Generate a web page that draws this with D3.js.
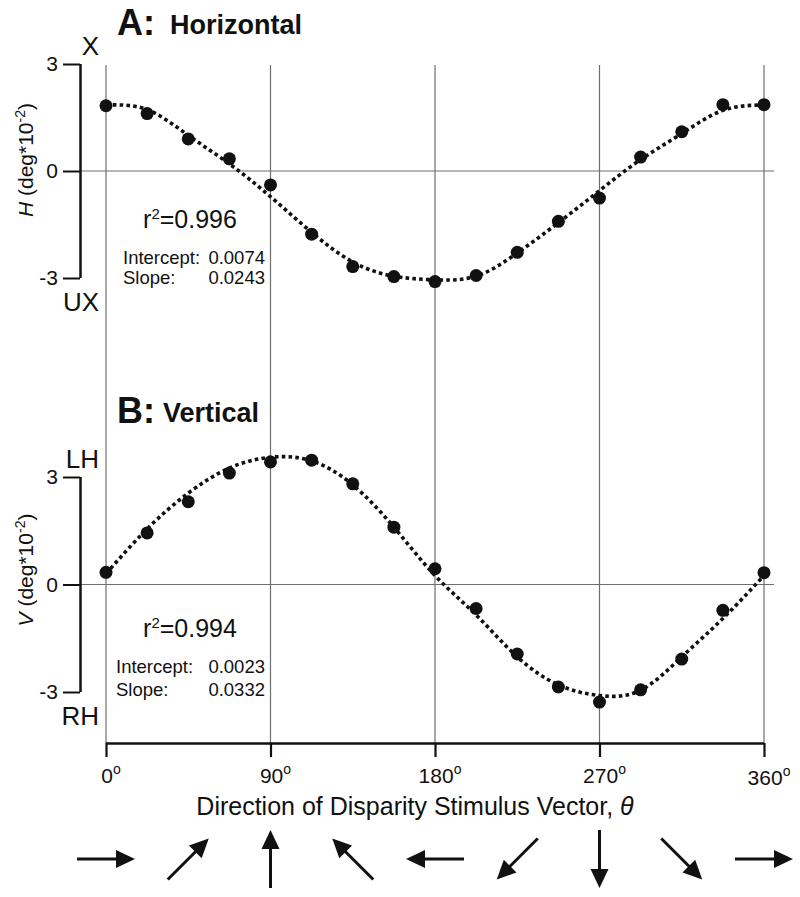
<!DOCTYPE html>
<html>
<head>
<meta charset="utf-8">
<script src="https://cdn.jsdelivr.net/npm/d3@7"></script>
<style>
  html, body { margin: 0; padding: 0; background: #fff; }
  svg { display: block; font-family: "Liberation Sans", Arial, Helvetica, sans-serif; }
</style>
</head>
<body>
<svg id="chart" width="800" height="897"></svg>
<script>
// ---------------- DATA ----------------
const angles = [0, 22.5, 45, 67.5, 90, 112.5, 135, 157.5, 180, 202.5, 225, 247.5, 270, 292.5, 315, 337.5, 360];
const horizontalValues = [1.83, 1.61, 0.90, 0.34, -0.39, -1.77, -2.68, -2.96, -3.10, -2.93, -2.28, -1.41, -0.76, 0.39, 1.10, 1.86, 1.86];
const horizontalFit   = [1.85, 1.72, 1.00, 0.20, -0.72, -1.72, -2.55, -2.95, -3.05, -2.95, -2.30, -1.45, -0.55, 0.32, 1.05, 1.70, 1.85];
const verticalValues  = [0.34, 1.44, 2.31, 3.11, 3.42, 3.47, 2.81, 1.60, 0.44, -0.67, -1.94, -2.86, -3.28, -2.94, -2.08, -0.72, 0.33];
const verticalFit     = [0.30, 1.55, 2.55, 3.25, 3.55, 3.45, 2.78, 1.60, 0.25, -0.85, -2.02, -2.80, -3.10, -2.95, -2.02, -0.95, 0.25];
const xTicks = [0, 90, 180, 270, 360];
const yTicks = [-3, 0, 3];
const arrowDirections = [0, 45, 90, 135, 180, 225, 270, 315, 360];
const panelA = { letter: "A:", name: "Horizontal", varName: "H", top: "X", bottom: "UX", r2: "0.996", intercept: "0.0074", slope: "0.0243" };
const panelB = { letter: "B:", name: "Vertical", varName: "V", top: "LH", bottom: "RH", r2: "0.994", intercept: "0.0023", slope: "0.0332" };
const xTitle = "Direction of Disparity Stimulus Vector, ";

// ---------------- LAYOUT ----------------
const svg = d3.select("#chart");
const x = d3.scaleLinear().domain([0, 360]).range([106, 764]);
const axisX = 80;
const gridTop = 65, xAxisY = 743;
const gridColor = "#6e6e6e";

// vertical grid lines through both panels
svg.append("g").selectAll("line").data(xTicks).join("line")
  .attr("x1", d => x(d)).attr("x2", d => x(d))
  .attr("y1", gridTop).attr("y2", xAxisY)
  .attr("stroke", gridColor).attr("stroke-width", 1.2);

function drawPanel(cfg, values, fit, yRange, titleY, titleCenter, statsY, statsX) {
  const y = d3.scaleLinear().domain([-3, 3]).range(yRange);
  const g = svg.append("g");

  // zero line
  g.append("line").attr("x1", axisX).attr("x2", 774)
    .attr("y1", y(0)).attr("y2", y(0))
    .attr("stroke", gridColor).attr("stroke-width", 1.2);

  // y axis via d3
  const yAxis = d3.axisLeft(y).tickValues(yTicks).tickSize(17).tickSizeOuter(0).tickPadding(5)
    .tickFormat(d => String(d));
  const ag = g.append("g").attr("transform", `translate(${axisX},0)`).call(yAxis);
  ag.select(".domain").attr("stroke", "#111").attr("stroke-width", 2.5)
    .attr("d", `M0.5,${y(3)}V${y(-3)}`);
  ag.selectAll(".tick line").attr("stroke", "#111").attr("stroke-width", 2);
  ag.selectAll(".tick text").attr("font-size", 21).attr("fill", "#111")
    .attr("font-family", "'Liberation Sans', Arial, sans-serif");

  // top / bottom labels
  g.append("text").attr("x", 99).attr("y", y(3) - 9).attr("text-anchor", "end")
    .attr("font-size", 26).attr("fill", "#111").text(cfg.top);
  g.append("text").attr("x", 99).attr("y", y(-3) + 33).attr("text-anchor", "end")
    .attr("font-size", 26).attr("fill", "#111").text(cfg.bottom);

  // y title (rotated)
  const yt = g.append("text").attr("transform", `translate(33,${titleCenter}) rotate(-90)`)
    .attr("text-anchor", "middle").attr("font-size", 21).attr("fill", "#111");
  yt.append("tspan").attr("font-style", "italic").text(cfg.varName);
  yt.append("tspan").text(" (deg*10");
  yt.append("tspan").attr("dy", -8).attr("font-size", 14).text("-2");
  yt.append("tspan").attr("dy", 8).text(")");

  // title
  g.append("text").attr("x", 117).attr("y", titleY).attr("font-size", 36).attr("font-weight", "bold")
    .attr("fill", "#111").text(cfg.letter);
  g.append("text").attr("x", cfg.letter === "A:" ? 170 : 163).attr("y", titleY - 1).attr("font-size", 27)
    .attr("font-weight", "bold").attr("fill", "#111").text(cfg.name);

  // fit line
  const line = d3.line().x((d, i) => x(angles[i])).y(d => y(d)).curve(d3.curveNatural);
  g.append("path").attr("d", line(fit)).attr("fill", "none")
    .attr("stroke", "#111").attr("stroke-width", 3.6).attr("stroke-dasharray", "3.6,3.2");

  // points
  g.append("g").selectAll("circle").data(values).join("circle")
    .attr("cx", (d, i) => x(angles[i])).attr("cy", d => y(d)).attr("r", 6.5).attr("fill", "#111");

  // statistics
  const r2 = g.append("text").attr("x", 190).attr("y", statsY).attr("text-anchor", "middle")
    .attr("font-size", 25).attr("fill", "#111");
  r2.append("tspan").text("r");
  r2.append("tspan").attr("dy", -9).attr("font-size", 15).text("2");
  r2.append("tspan").attr("dy", 9).text("=" + cfg.r2);

  const lineGap = cfg.letter === "A:" ? 20 : 23;
  g.append("text").attr("x", statsX).attr("y", statsY + 36).attr("font-size", 18.5).attr("fill", "#111").text("Intercept:");
  g.append("text").attr("x", 265).attr("y", statsY + 36).attr("text-anchor", "end").attr("font-size", 18.5).attr("fill", "#111").text(cfg.intercept);
  g.append("text").attr("x", statsX).attr("y", statsY + 36 + lineGap).attr("font-size", 18.5).attr("fill", "#111").text("Slope:");
  g.append("text").attr("x", 265).attr("y", statsY + 36 + lineGap).attr("text-anchor", "end").attr("font-size", 18.5).attr("fill", "#111").text(cfg.slope);
}

drawPanel(panelA, horizontalValues, horizontalFit, [278, 64], 35, 160, 228, 123);
drawPanel(panelB, verticalValues, verticalFit, [692, 477], 423, 570, 637, 116);

// x axis
const xAxis = d3.axisBottom(x).tickValues(xTicks).tickSize(14).tickSizeOuter(0).tickFormat("");
const xg = svg.append("g").attr("transform", `translate(0,${xAxisY})`).call(xAxis);
xg.select(".domain").attr("stroke", "#111").attr("stroke-width", 2.5).attr("d", `M${x(0)},0.5H${x(360)}`);
xg.selectAll(".tick line").attr("stroke", "#111").attr("stroke-width", 2.2);

const tl = svg.append("g").selectAll("text").data(xTicks).join("text")
  .attr("x", d => x(d) + 5).attr("y", d => d === 360 ? 785 : 783)
  .attr("text-anchor", "middle").attr("font-size", 21).attr("fill", "#111");
tl.append("tspan").text(d => d);
tl.append("tspan").attr("dy", -9).attr("font-size", 14).text("o");

const xt = svg.append("text").attr("x", 415).attr("y", 815).attr("text-anchor", "middle")
  .attr("font-size", 25).attr("fill", "#111");
xt.append("tspan").text(xTitle);
xt.append("tspan").attr("font-style", "italic").text("θ");

// direction arrows
const arrowY = 859, halfLen = 29, headLen = 19, headHalf = 9;
const ag = svg.append("g").selectAll("g").data(arrowDirections).join("g")
  .attr("transform", d => `translate(${x(d)},${arrowY}) rotate(${-d})`);
ag.append("line").attr("x1", -halfLen).attr("x2", halfLen - headLen + 2).attr("y1", 0).attr("y2", 0)
  .attr("stroke", "#111").attr("stroke-width", 3);
ag.append("path").attr("d", `M${halfLen},0L${halfLen - headLen},${-headHalf}L${halfLen - headLen},${headHalf}Z`)
  .attr("fill", "#111");
</script>
</body>
</html>
